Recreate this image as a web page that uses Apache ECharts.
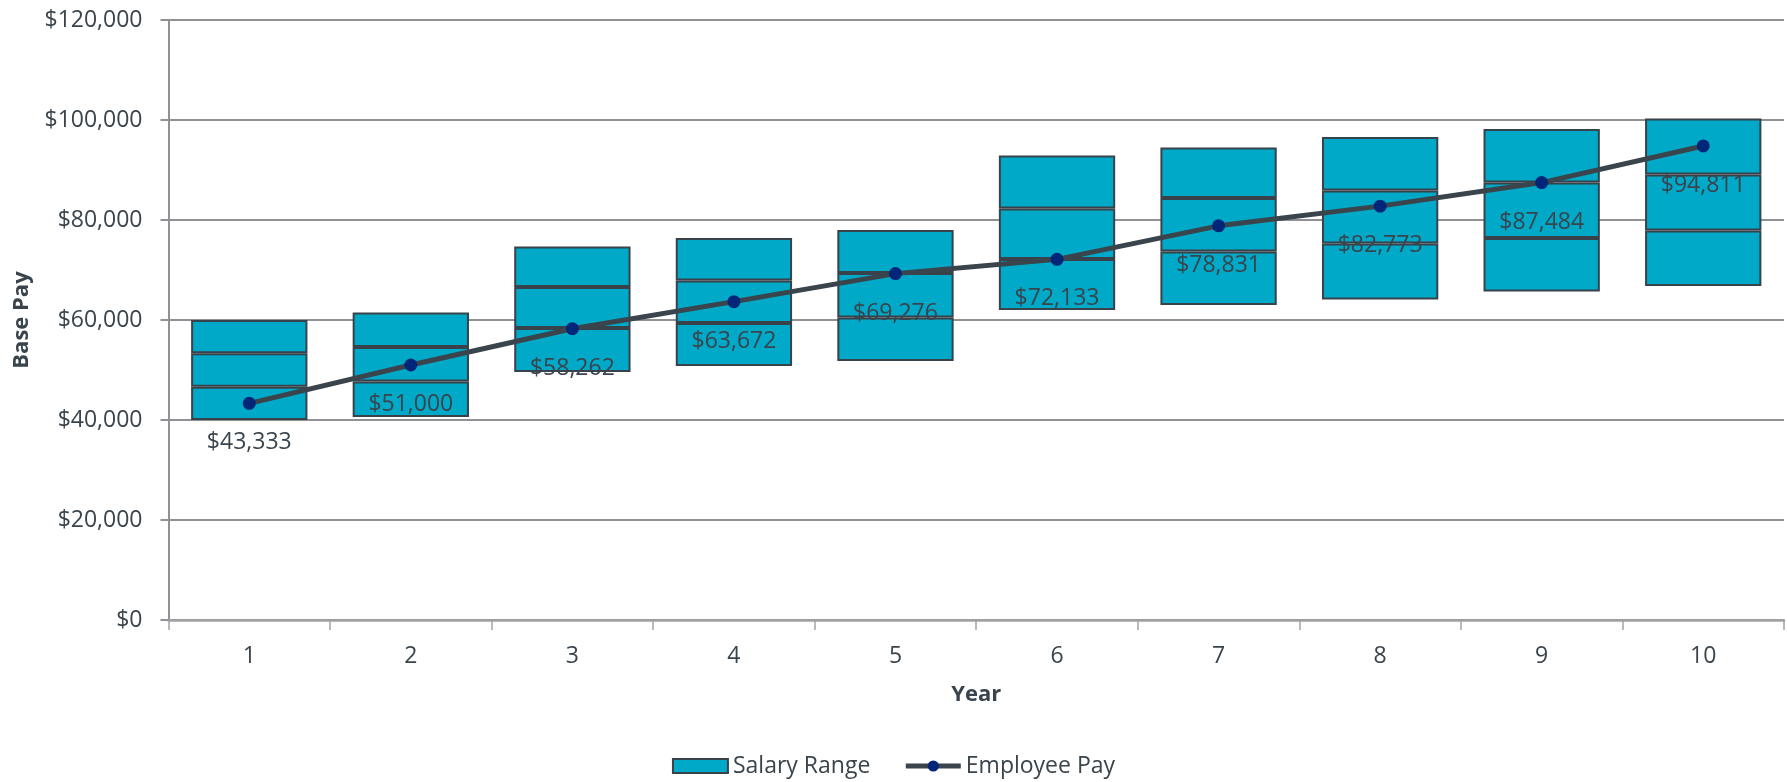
<!DOCTYPE html>
<html>
<head>
<meta charset="utf-8">
<script src="https://cdn.jsdelivr.net/npm/echarts@6/dist/echarts.min.js"></script>
<style>
html,body{margin:0;padding:0;background:#fff;}
#chart{width:1787px;height:782px;}
</style>
</head>
<body>
<div id="chart"></div>
<script>
const years = ['1','2','3','4','5','6','7','8','9','10'];
const rangeMin  = [40000, 40600, 49600, 50800, 51800, 62000, 63000, 64100, 65700, 66800];
const rangeLow  = [46667, 47700, 58400, 59400, 60500, 72200, 73700, 75300, 76400, 77900];
const rangeHigh = [53333, 54600, 66600, 67900, 69400, 82300, 84400, 85900, 87500, 89100];
const rangeMax  = [60000, 61500, 74700, 76400, 78000, 92900, 94500, 96600, 98200, 100300];
const employeePay = [43333, 51000, 58262, 63672, 69276, 72133, 78831, 82773, 87484, 94811];
const yTicks = [0, 20000, 40000, 60000, 80000, 100000, 120000];

const seg1 = rangeLow.map((v, i) => v - rangeMin[i]);
const seg2 = rangeHigh.map((v, i) => v - rangeLow[i]);
const seg3 = rangeMax.map((v, i) => v - rangeHigh[i]);

const FONT = 'Open Sans';
const TXT = '#3a444c';
const money = v => '$' + Number(v).toLocaleString('en-US');

const barStyle = { color: '#00A9C7', borderColor: '#37424b', borderWidth: 2 };

const chart = echarts.init(document.getElementById('chart'), null, { renderer: 'canvas' });
chart.setOption({
  animation: false,
  textStyle: { fontFamily: FONT },
  grid: { left: 168.5, right: 3, top: 20, bottom: 162, containLabel: false, outerBoundsMode: 'none' },
  legend: {
    data: [{ name: 'Salary Range', icon: 'rect' }, 'Employee Pay'],
    left: 'center',
    top: 748,
    itemWidth: 55,
    itemHeight: 14,
    itemGap: 33,
    lineStyle: { width: 5 },
    textStyle: { fontFamily: FONT, fontSize: 23, color: TXT, lineHeight: 26 }
  },
  xAxis: {
    type: 'category',
    data: years,
    boundaryGap: true,
    name: 'Year',
    nameLocation: 'middle',
    nameGap: 64,
    nameTextStyle: { fontFamily: FONT, fontSize: 22, fontWeight: 'bold', color: TXT },
    axisLine: { show: true, lineStyle: { color: '#a0a2a4', width: 2.5 } },
    axisTick: { show: true, length: 10, lineStyle: { color: '#a0a2a4', width: 1.5 } },
    axisLabel: { fontFamily: FONT, fontSize: 23, color: TXT, margin: 25 },
    splitLine: { show: false }
  },
  yAxis: {
    type: 'value',
    min: yTicks[0],
    max: yTicks[yTicks.length - 1],
    interval: yTicks[1] - yTicks[0],
    name: 'Base Pay',
    nameLocation: 'middle',
    nameGap: 136,
    nameRotate: 90,
    nameTextStyle: { fontFamily: FONT, fontSize: 22, fontWeight: 'bold', color: TXT },
    axisLine: { show: true, lineStyle: { color: '#8f9194', width: 2 } },
    axisTick: { show: true, length: 8, lineStyle: { color: '#8f9194', width: 2 } },
    axisLabel: { fontFamily: FONT, fontSize: 23, color: TXT, margin: 26, formatter: money },
    splitLine: { show: true, lineStyle: { color: '#8f9194', width: 2 } }
  },
  series: [
    { name: 'base', type: 'bar', stack: 'range', data: rangeMin, barWidth: '72%',
      itemStyle: { color: 'transparent', borderWidth: 0 }, silent: true, z: 1 },
    { name: 'Salary Range', type: 'bar', stack: 'range', data: seg1, itemStyle: barStyle, z: 2 },
    { name: 'Salary Range', type: 'bar', stack: 'range', data: seg2, itemStyle: barStyle, z: 2 },
    { name: 'Salary Range', type: 'bar', stack: 'range', data: seg3, itemStyle: barStyle, z: 2 },
    { name: 'Employee Pay', type: 'line', data: employeePay, z: 5,
      symbol: 'circle', symbolSize: 13,
      lineStyle: { color: '#3a444c', width: 5 },
      itemStyle: { color: '#00267a', borderWidth: 0 },
      label: { show: true, position: 'bottom', distance: 21, fontFamily: FONT, fontSize: 23,
               lineHeight: 24, color: TXT, formatter: p => money(p.value) } }
  ]
});
</script>
</body>
</html>
